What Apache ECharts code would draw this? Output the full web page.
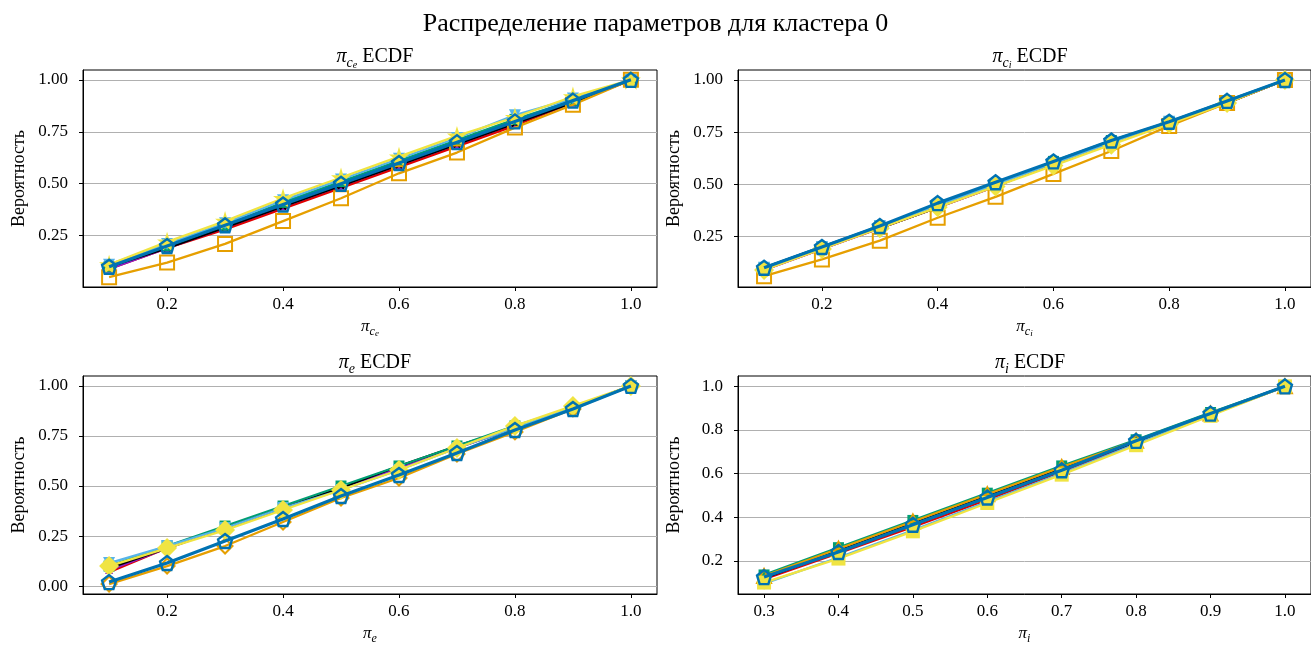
<!DOCTYPE html>
<html>
<head>
<meta charset="utf-8">
<script src="https://cdn.jsdelivr.net/npm/echarts@6/dist/echarts.min.js"></script>
<style>
  html, body { margin: 0; padding: 0; background: #fff; }
  #chart { width: 1311px; height: 646px; }
</style>
</head>
<body>
<div id="chart"></div>
<script>
// ---- data ----
const xDecile = [0.1, 0.2, 0.3, 0.4, 0.5, 0.6, 0.7, 0.8, 0.9, 1.0];
const xPiI = [0.3, 0.4, 0.5, 0.6, 0.7, 0.8, 0.9, 1.0];

const seriesNames = ['s0', 's1', 's2', 's3', 's4', 's5', 's6', 's7'];
const seriesColors = ['#E00000', '#8B1FC8', '#000000', '#009E73', '#56B4E9', '#E69F00', '#F0E442', '#0072B2'];

// π_ce ECDF
const pce = [
  [0.09, 0.19, 0.28, 0.38, 0.48, 0.58, 0.68, 0.78, 0.89, 1.0],
  [0.09, 0.19, 0.29, 0.39, 0.49, 0.59, 0.69, 0.79, 0.89, 1.0],
  [0.10, 0.19, 0.29, 0.39, 0.49, 0.59, 0.69, 0.79, 0.89, 1.0],
  [0.10, 0.20, 0.30, 0.41, 0.51, 0.61, 0.71, 0.81, 0.90, 1.0],
  [0.11, 0.21, 0.31, 0.42, 0.52, 0.62, 0.72, 0.83, 0.91, 1.0],
  [0.05, 0.12, 0.21, 0.32, 0.43, 0.55, 0.65, 0.77, 0.88, 1.0],
  [0.11, 0.22, 0.32, 0.43, 0.53, 0.63, 0.73, 0.82, 0.92, 1.0],
  [0.10, 0.20, 0.30, 0.40, 0.50, 0.60, 0.70, 0.80, 0.90, 1.0]
];
// π_ci ECDF
const pci = [
  [0.09, 0.19, 0.29, 0.39, 0.49, 0.60, 0.70, 0.79, 0.89, 1.0],
  [0.09, 0.19, 0.29, 0.39, 0.49, 0.60, 0.70, 0.80, 0.89, 1.0],
  [0.10, 0.20, 0.29, 0.39, 0.50, 0.60, 0.70, 0.80, 0.89, 1.0],
  [0.10, 0.20, 0.30, 0.40, 0.50, 0.61, 0.71, 0.80, 0.90, 1.0],
  [0.10, 0.20, 0.30, 0.40, 0.50, 0.60, 0.70, 0.80, 0.90, 1.0],
  [0.06, 0.14, 0.23, 0.34, 0.44, 0.55, 0.66, 0.78, 0.89, 1.0],
  [0.09, 0.19, 0.29, 0.39, 0.49, 0.59, 0.69, 0.79, 0.89, 1.0],
  [0.10, 0.20, 0.30, 0.41, 0.51, 0.61, 0.71, 0.80, 0.90, 1.0]
];
// π_e ECDF
const pe = [
  [0.07, 0.19, 0.29, 0.39, 0.49, 0.59, 0.69, 0.79, 0.89, 1.0],
  [0.08, 0.19, 0.29, 0.39, 0.49, 0.59, 0.69, 0.79, 0.89, 1.0],
  [0.09, 0.19, 0.29, 0.39, 0.49, 0.60, 0.70, 0.79, 0.89, 1.0],
  [0.10, 0.20, 0.30, 0.40, 0.50, 0.60, 0.70, 0.80, 0.89, 1.0],
  [0.115, 0.20, 0.29, 0.39, 0.48, 0.58, 0.69, 0.79, 0.89, 1.0],
  [0.01, 0.10, 0.20, 0.32, 0.44, 0.54, 0.66, 0.77, 0.885, 1.0],
  [0.10, 0.19, 0.28, 0.38, 0.48, 0.58, 0.69, 0.80, 0.90, 1.0],
  [0.02, 0.115, 0.225, 0.335, 0.45, 0.555, 0.665, 0.78, 0.885, 1.0]
];
// π_i ECDF
const pi = [
  [0.115, 0.235, 0.355, 0.48, 0.61, 0.74, 0.87, 1.0],
  [0.12, 0.245, 0.37, 0.495, 0.62, 0.745, 0.875, 1.0],
  [0.12, 0.245, 0.37, 0.495, 0.62, 0.745, 0.875, 1.0],
  [0.135, 0.26, 0.385, 0.51, 0.635, 0.755, 0.88, 1.0],
  [0.095, 0.215, 0.34, 0.47, 0.60, 0.735, 0.87, 1.0],
  [0.13, 0.255, 0.38, 0.505, 0.63, 0.75, 0.875, 1.0],
  [0.10, 0.21, 0.335, 0.465, 0.595, 0.73, 0.865, 1.0],
  [0.125, 0.24, 0.365, 0.49, 0.615, 0.75, 0.875, 1.0]
];

// tick labels
const xTicks01 = [0.2, 0.4, 0.6, 0.8, 1.0];
const xTicksPi = [0.3, 0.4, 0.5, 0.6, 0.7, 0.8, 0.9, 1.0];
const yTicksQ = [0.25, 0.5, 0.75, 1.0];
const yTicksE = [0, 0.25, 0.5, 0.75, 1.0];
const yTicksI = [0.2, 0.4, 0.6, 0.8, 1.0];

const mainTitle = 'Распределение параметров для кластера 0';
const yName = 'Вероятность';

// ---- layout / style ----
const FONT = 'Liberation Serif';
const crossPath = 'path://M0,0L10,10M10,0L0,10';
const starPath = 'path://M50,0L61,35L98,35L68,57L79,91L50,70L21,91L32,57L2,35L39,35Z';
const pentagonPath = 'path://M50,0L100,38L81,100L19,100L0,38Z';
const panels = [
  { x: xDecile, ys: pce, xTicks: xTicks01, yTicks: yTicksQ, xr: [0.055, 1.045], yr: [0.0025, 1.0475], yDec: 2,
    sub: ['c', 'e'], left: 83, top: 70, height: 217, orangeSym: 'rect', yellowSym: starPath },
  { x: xDecile, ys: pci, xTicks: xTicks01, yTicks: yTicksQ, xr: [0.055, 1.045], yr: [0.008, 1.048], yDec: 2,
    sub: ['c', 'i'], left: 738, top: 70, height: 217, orangeSym: 'rect', yellowSym: 'diamond' },
  { x: xDecile, ys: pe, xTicks: xTicks01, yTicks: yTicksE, xr: [0.055, 1.045], yr: [-0.0395, 1.0495], yDec: 2,
    sub: ['e', null], left: 83, top: 376, height: 220, orangeSym: 'diamond', yellowSym: 'diamond' },
  { x: xPiI, ys: pi, xTicks: xTicksPi, yTicks: yTicksI, xr: [0.265, 1.035], yr: [0.0475, 1.0475], yDec: 1,
    sub: ['i', null], left: 738, top: 376, height: 218, orangeSym: 'triangle', yellowSym: 'rect' }
];
const plotWidth = 574;

function symbolFor(si, p) {
  switch (si) {
    case 0: return { symbol: 'circle', size: 3, fill: true };
    case 1: return { symbol: 'triangle', size: 8, fill: true };
    case 2: return { symbol: crossPath, size: 6, fill: false };
    case 3: return { symbol: 'rect', size: 11, fill: true };
    case 4: return { symbol: 'triangle', size: 12, fill: true, rotate: 180 };
    case 5: return { symbol: p.orangeSym, size: p.orangeSym === 'diamond' ? 15 : 14, fill: false };
    case 6: return { symbol: p.yellowSym, size: p.yellowSym === 'rect' ? 14 : 20, fill: true };
    case 7: return { symbol: pentagonPath, size: 14, fill: false };
  }
}

function mathRich(sub, suffix) {
  let t = '{p|π}{s|' + sub[0] + '}';
  if (sub[1]) t += '{ss|' + sub[1] + '}';
  return t + (suffix ? '{t|' + suffix + '}' : '');
}
const richBase = (fs) => ({
  p: { fontFamily: FONT, fontSize: fs, fontStyle: 'italic', fontWeight: 'normal', color: '#000',
       lineHeight: fs + 6, verticalAlign: 'middle' },
  t: { fontFamily: FONT, fontSize: fs, fontWeight: 'normal', color: '#000',
       lineHeight: fs + 6, verticalAlign: 'middle' },
  s: { fontFamily: FONT, fontSize: Math.round(fs * 0.7), fontStyle: 'italic', fontWeight: 'normal', color: '#000',
       verticalAlign: 'bottom', lineHeight: Math.round(fs * 0.7) + 1 },
  ss: { fontFamily: FONT, fontSize: Math.round(fs * 0.5), fontStyle: 'italic', fontWeight: 'normal', color: '#000',
        verticalAlign: 'bottom', lineHeight: Math.round(fs * 0.5) - 1 }
});

const grids = [], xAxes = [], yAxes = [], series = [];
const titles = [{
  text: mainTitle, left: 'center', top: 6,
  textStyle: { fontFamily: FONT, fontSize: 26, fontWeight: 'normal', color: '#000' }
}];

panels.forEach((p, gi) => {
  grids.push({ left: p.left, top: p.top, width: plotWidth, height: p.height,
    show: true, borderColor: '#000', borderWidth: 1, backgroundColor: 'transparent' });
  titles.push({
    text: mathRich(p.sub, ' ECDF'), left: p.left + plotWidth / 2, top: p.top - 31, textAlign: 'center',
    textStyle: { fontWeight: 'normal', rich: richBase(20) }
  });
  xAxes.push({
    type: 'value', gridIndex: gi, min: p.xr[0], max: p.xr[1],
    name: mathRich(p.sub, ''), nameLocation: 'middle', nameGap: 28,
    nameTextStyle: { rich: richBase(17) },
    axisLine: { show: true, onZero: false, lineStyle: { color: '#000', width: 1 } },
    axisTick: { show: true, customValues: p.xTicks, length: 4, lineStyle: { color: '#000' } },
    axisLabel: { customValues: p.xTicks, margin: 9, fontFamily: FONT, fontSize: 17, color: '#000',
      formatter: v => v.toFixed(1) },
    splitLine: { show: false }
  });
  yAxes.push({
    type: 'value', gridIndex: gi, min: p.yr[0], max: p.yr[1],
    name: yName, nameLocation: 'middle', nameGap: 55, nameRotate: 90,
    nameTextStyle: { fontFamily: FONT, fontSize: 18, color: '#000' },
    axisLine: { show: true, onZero: false, lineStyle: { color: '#000', width: 1 } },
    axisTick: { show: true, customValues: p.yTicks, length: 4, lineStyle: { color: '#000' } },
    axisLabel: { customValues: p.yTicks, margin: 15, fontFamily: FONT, fontSize: 17, color: '#000',
      formatter: v => v.toFixed(p.yDec) },
    splitLine: { show: true, lineStyle: { color: '#b0b0b0', width: 1 } }
  });
  p.ys.forEach((vals, si) => {
    const m = symbolFor(si, p);
    const color = seriesColors[si];
    series.push({
      name: seriesNames[si], type: 'line', xAxisIndex: gi, yAxisIndex: gi,
      data: p.x.map((xv, k) => [xv, vals[k]]),
      symbol: m.symbol, symbolSize: m.size, symbolRotate: m.rotate || 0,
      showAllSymbol: true, animation: false, z: 2 + si,
      lineStyle: { color: color, width: si === 7 ? 3.2 : 2.3 },
      itemStyle: m.fill
        ? { color: color, borderColor: color, borderWidth: 0 }
        : { color: si === 2 ? color : 'rgba(255,255,255,0)', borderColor: color, borderWidth: si === 7 ? 2.4 : 2 },
      emphasis: { disabled: true }
    });
  });
});

const chart = echarts.init(document.getElementById('chart'), null, { renderer: 'canvas' });
chart.setOption({
  animation: false,
  backgroundColor: '#fff',
  title: titles,
  grid: grids,
  xAxis: xAxes,
  yAxis: yAxes,
  series: series
});
</script>
</body>
</html>
